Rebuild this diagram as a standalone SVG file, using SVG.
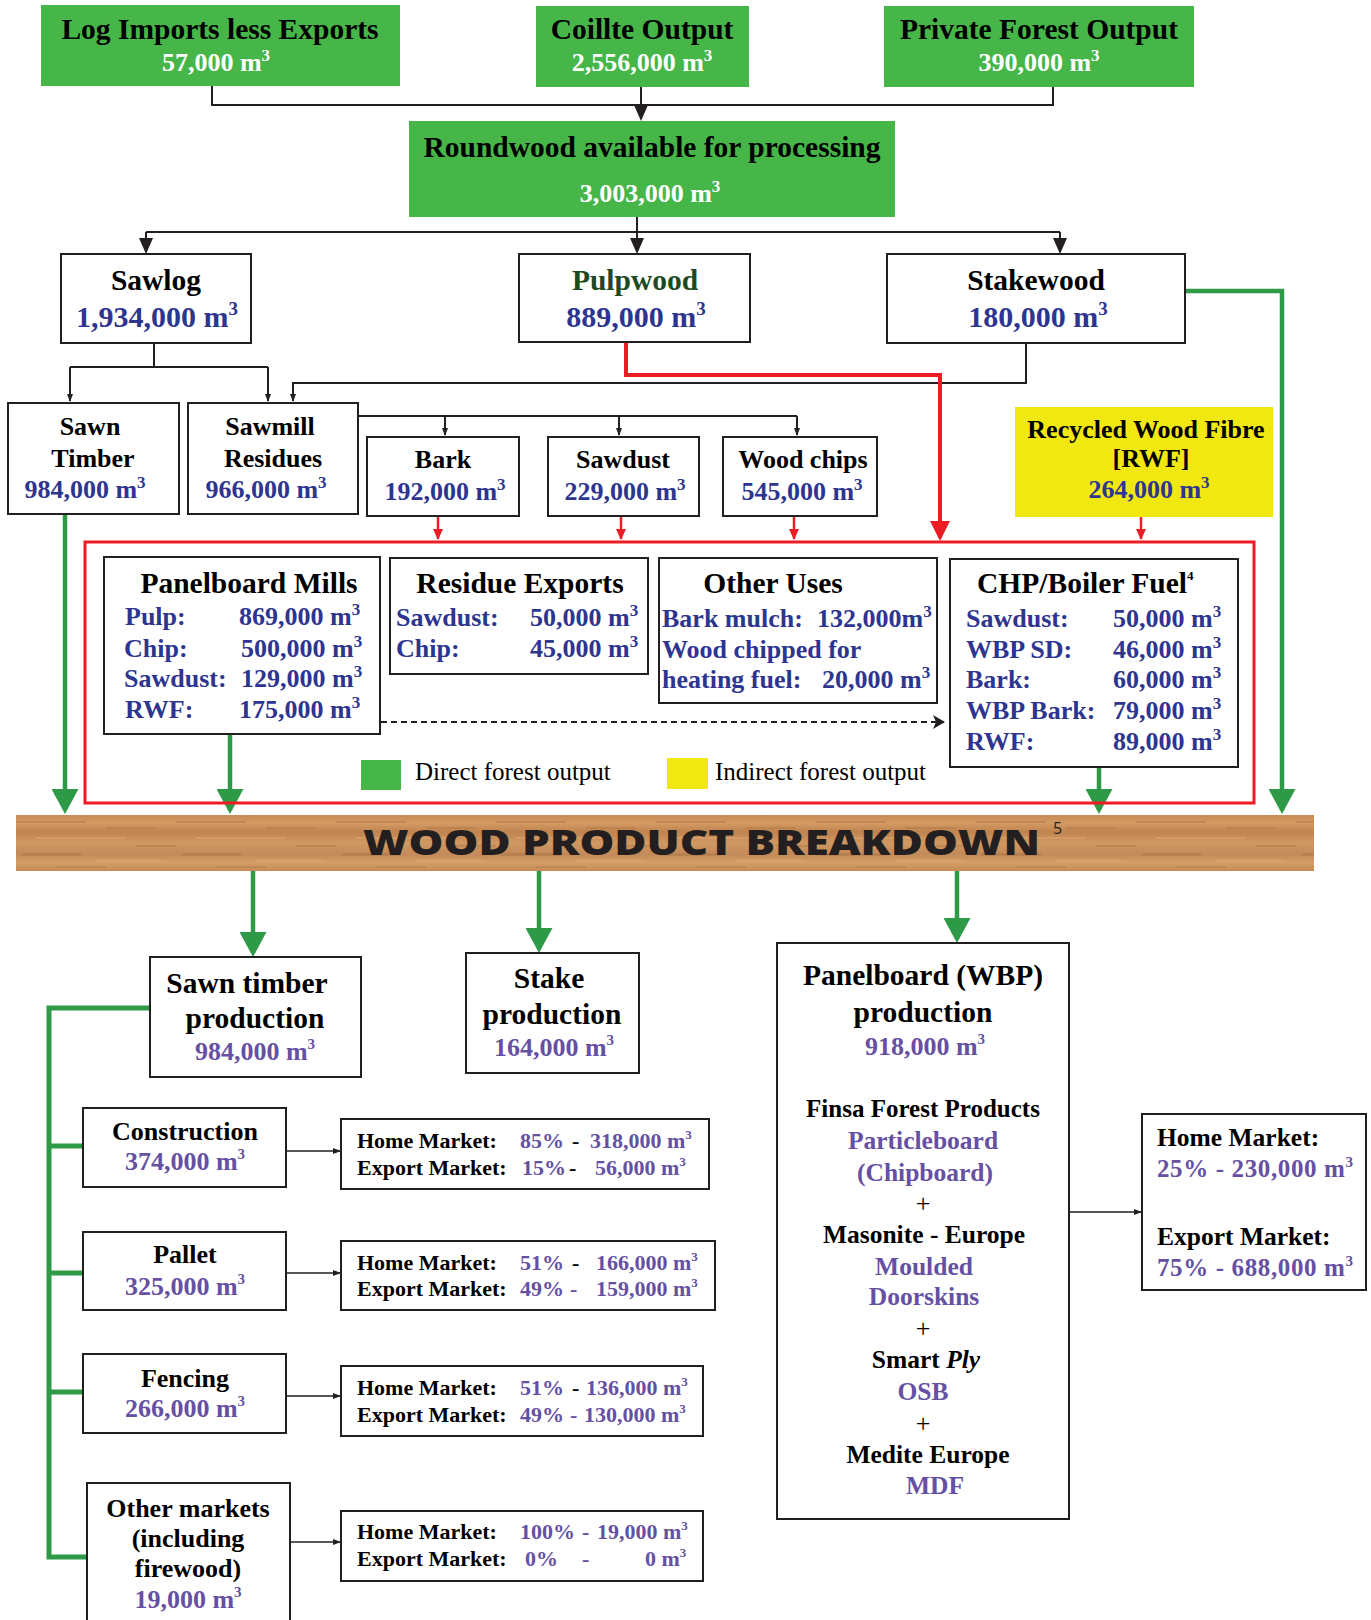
<svg xmlns="http://www.w3.org/2000/svg" width="1371" height="1620" viewBox="0 0 1371 1620">
<style>
.t{font-family:"Liberation Serif","Times New Roman",serif;font-weight:bold}
.r{font-family:"Liberation Serif","Times New Roman",serif;font-weight:normal}
.c{text-anchor:middle}
.h30{font-size:29.5px}
.n26{font-size:26px}
.s22{font-size:22px}
.blk{fill:#000}
.wht{fill:#fff}
.blu{fill:#2e3591}
.pur{fill:#6650a3}
.dg{fill:#1d4a21}
.box{fill:#fff;stroke:#231f20;stroke-width:2}
.gbox{fill:#47b649}
.ybox{fill:#f2e811}
.conn{fill:none;stroke:#231f20;stroke-width:2}
.red{fill:none;stroke:#ed1c24;stroke-width:4}
.redbox{fill:none;stroke:#ed1c24;stroke-width:3}
.grn{fill:none;stroke:#2e9a47;stroke-width:4.5}
.dash{fill:none;stroke:#231f20;stroke-width:1.8;stroke-dasharray:6 4}
</style>
<defs>
<marker id="blkL" viewBox="0 0 16 14" refX="14" refY="7" markerWidth="16" markerHeight="14" markerUnits="userSpaceOnUse" orient="auto"><path d="M0,0 L16,7 L0,14 z" fill="#231f20"/></marker>
<marker id="blkS" viewBox="0 0 8 6" refX="7" refY="3" markerWidth="8" markerHeight="6" markerUnits="userSpaceOnUse" orient="auto"><path d="M0,0 L8,3 L0,6 z" fill="#231f20"/></marker>
<marker id="blkD" viewBox="0 0 12 14" refX="11" refY="7" markerWidth="12" markerHeight="14" markerUnits="userSpaceOnUse" orient="auto"><path d="M0,0 L12,7 L0,14 L3,7 z" fill="#231f20"/></marker>
<marker id="redS" viewBox="0 0 11 10" refX="10" refY="5" markerWidth="11" markerHeight="10" markerUnits="userSpaceOnUse" orient="auto"><path d="M0,0 L11,5 L0,10 z" fill="#ed1c24"/></marker>
<marker id="redL" viewBox="0 0 20 20" refX="17" refY="10" markerWidth="20" markerHeight="20" markerUnits="userSpaceOnUse" orient="auto"><path d="M0,0 L20,10 L0,20 z" fill="#ed1c24"/></marker>
<marker id="grnA" viewBox="0 0 25 27" refX="21" refY="13.5" markerWidth="25" markerHeight="27" markerUnits="userSpaceOnUse" orient="auto"><path d="M0,0 L25,13.5 L0,27 z" fill="#2e9a47"/></marker>
<linearGradient id="woodG" x1="0" y1="0" x2="0" y2="1">
<stop offset="0" stop-color="#c88c56"/>
<stop offset="0.15" stop-color="#d39a63"/>
<stop offset="0.3" stop-color="#c0834f"/>
<stop offset="0.5" stop-color="#d09862"/>
<stop offset="0.7" stop-color="#c3895a"/>
<stop offset="0.85" stop-color="#d49d67"/>
<stop offset="1" stop-color="#c68b56"/>
</linearGradient>
<pattern id="grain" x="16" y="815" width="160" height="56" patternUnits="userSpaceOnUse">
<rect x="0" y="6" width="70" height="2" fill="#9c6a3c" opacity="0.35"/>
<rect x="90" y="12" width="50" height="2" fill="#9c6a3c" opacity="0.3"/>
<rect x="20" y="22" width="90" height="2" fill="#e3b07a" opacity="0.4"/>
<rect x="120" y="30" width="40" height="2" fill="#9c6a3c" opacity="0.3"/>
<rect x="5" y="38" width="60" height="3" fill="#9c6a3c" opacity="0.3"/>
<rect x="80" y="45" width="70" height="2" fill="#e3b07a" opacity="0.4"/>
<rect x="40" y="51" width="50" height="2" fill="#9c6a3c" opacity="0.3"/>
</pattern>
</defs>

<!-- connectors -->
<g id="connectors">
<path class="conn" d="M212,86 V105 H1053 V87"/>
<path class="conn" d="M641,87 V119" marker-end="url(#blkL)"/>
<path class="conn" d="M637,217 V232"/>
<path class="conn" d="M146,232 H1060"/>
<path class="conn" d="M146,232 V252" marker-end="url(#blkL)"/>
<path class="conn" d="M637,232 V252" marker-end="url(#blkL)"/>
<path class="conn" d="M1060,232 V252" marker-end="url(#blkL)"/>
<path class="conn" d="M154,343 V367"/>
<path class="conn" d="M70,367 H268"/>
<path class="conn" d="M70,367 V401" marker-end="url(#blkS)"/>
<path class="conn" d="M268,367 V401" marker-end="url(#blkS)"/>
<path class="conn" d="M1026,343 V383 H293 V401" marker-end="url(#blkS)"/>
<path class="conn" d="M358,416 H797"/>
<path class="conn" d="M445,416 V435" marker-end="url(#blkS)"/>
<path class="conn" d="M619,416 V435" marker-end="url(#blkS)"/>
<path class="conn" d="M797,416 V435" marker-end="url(#blkS)"/>
<path class="red" d="M626,342 V375 H940 V538" marker-end="url(#redL)"/>
<path class="red" style="stroke-width:2.5" d="M438,516 V539" marker-end="url(#redS)"/>
<path class="red" style="stroke-width:2.5" d="M621,516 V539" marker-end="url(#redS)"/>
<path class="red" style="stroke-width:2.5" d="M794,516 V539" marker-end="url(#redS)"/>
<path class="red" style="stroke-width:2.5" d="M1141,517 V539" marker-end="url(#redS)"/>
<path class="dash" d="M381,722 H944" marker-end="url(#blkD)"/>
<path class="grn" d="M1185,291 H1282 V810" marker-end="url(#grnA)"/>
<path class="grn" d="M65,515 V810" marker-end="url(#grnA)"/>
<path class="grn" d="M230,735 V810" marker-end="url(#grnA)"/>
<path class="grn" d="M1099,768 V810" marker-end="url(#grnA)"/>
<path class="grn" d="M253,871 V953" marker-end="url(#grnA)"/>
<path class="grn" d="M539,871 V949" marker-end="url(#grnA)"/>
<path class="grn" d="M957,871 V939" marker-end="url(#grnA)"/>
<path class="grn" style="stroke-width:5" d="M150,1008 H49 V1557 H87"/>
<path class="grn" style="stroke-width:5" d="M49,1146 H83"/>
<path class="grn" style="stroke-width:5" d="M49,1273 H83"/>
<path class="grn" style="stroke-width:5" d="M49,1392 H83"/>
<path class="conn" style="stroke-width:1.5" d="M286,1151 H340" marker-end="url(#blkS)"/>
<path class="conn" style="stroke-width:1.5" d="M286,1273 H340" marker-end="url(#blkS)"/>
<path class="conn" style="stroke-width:1.5" d="M286,1396 H340" marker-end="url(#blkS)"/>
<path class="conn" style="stroke-width:1.5" d="M290,1542 H340" marker-end="url(#blkS)"/>
<path class="conn" style="stroke-width:1.5" d="M1069,1212 H1141" marker-end="url(#blkS)"/>
</g>

<!-- top sources -->
<g id="log-imports">
<rect class="gbox" x="41" y="5" width="359" height="81"/>
<text class="t c h30 blk" x="220" y="39">Log Imports less Exports</text>
<text class="t c n26 wht" x="216" y="71">57,000 m<tspan dy="-10" font-size="17">3</tspan></text>
</g>
<g id="coillte">
<rect class="gbox" x="536" y="6" width="213" height="81"/>
<text class="t c h30 blk" x="642" y="39">Coillte Output</text>
<text class="t c n26 wht" x="642" y="71">2,556,000 m<tspan dy="-10" font-size="17">3</tspan></text>
</g>
<g id="private-forest">
<rect class="gbox" x="884" y="6" width="310" height="81"/>
<text class="t c h30 blk" x="1039" y="39">Private Forest Output</text>
<text class="t c n26 wht" x="1039" y="71">390,000 m<tspan dy="-10" font-size="17">3</tspan></text>
</g>
<g id="roundwood">
<rect class="gbox" x="409" y="121" width="486" height="96"/>
<text class="t c h30 blk" x="652" y="157">Roundwood available for processing</text>
<text class="t c n26 wht" x="650" y="202">3,003,000 m<tspan dy="-10" font-size="17">3</tspan></text>
</g>

<!-- second row -->
<g id="sawlog">
<rect class="box" x="61" y="254" width="190" height="89"/>
<text class="t c h30 blk" x="156" y="290">Sawlog</text>
<text class="t c blu" style="font-size:30px" x="157" y="327">1,934,000 m<tspan dy="-12" font-size="19">3</tspan></text>
</g>
<g id="pulpwood">
<rect class="box" x="519" y="254" width="231" height="88"/>
<text class="t c h30 dg" x="635" y="290">Pulpwood</text>
<text class="t c blu" style="font-size:30px" x="636" y="327">889,000 m<tspan dy="-12" font-size="19">3</tspan></text>
</g>
<g id="stakewood">
<rect class="box" x="887" y="254" width="298" height="89"/>
<text class="t c h30 blk" x="1036" y="290">Stakewood</text>
<text class="t c blu" style="font-size:30px" x="1038" y="327">180,000 m<tspan dy="-12" font-size="19">3</tspan></text>
</g>

<!-- third row -->
<g id="sawn-timber">
<rect class="box" x="8" y="403" width="171" height="111"/>
<text class="t c n26 blk" x="90" y="435">Sawn</text>
<text class="t c n26 blk" x="93" y="467">Timber</text>
<text class="t c n26 blu" x="85" y="498">984,000 m<tspan dy="-10" font-size="17">3</tspan></text>
</g>
<g id="sawmill-residues">
<rect class="box" x="188" y="403" width="170" height="111"/>
<text class="t c n26 blk" x="270" y="435">Sawmill</text>
<text class="t c n26 blk" x="273" y="467">Residues</text>
<text class="t c n26 blu" x="266" y="498">966,000 m<tspan dy="-10" font-size="17">3</tspan></text>
</g>
<g id="bark">
<rect class="box" x="367" y="437" width="152" height="79"/>
<text class="t c n26 blk" x="443" y="468">Bark</text>
<text class="t c n26 blu" x="445" y="500">192,000 m<tspan dy="-10" font-size="17">3</tspan></text>
</g>
<g id="sawdust">
<rect class="box" x="548" y="437" width="151" height="79"/>
<text class="t c n26 blk" x="623" y="468">Sawdust</text>
<text class="t c n26 blu" x="625" y="500">229,000 m<tspan dy="-10" font-size="17">3</tspan></text>
</g>
<g id="wood-chips">
<rect class="box" x="723" y="437" width="154" height="79"/>
<text class="t c n26 blk" x="803" y="468">Wood chips</text>
<text class="t c n26 blu" x="802" y="500">545,000 m<tspan dy="-10" font-size="17">3</tspan></text>
</g>
<g id="recycled-wood-fibre">
<rect class="ybox" x="1015" y="407" width="258" height="110"/>
<text class="t c n26 blk" x="1146" y="438">Recycled Wood Fibre</text>
<text class="t c n26 blk" x="1151" y="467">[RWF]</text>
<text class="t c n26 blu" x="1149" y="498">264,000 m<tspan dy="-10" font-size="17">3</tspan></text>
</g>

<!-- processing red frame -->
<g id="processing-frame">
<rect class="redbox" x="85" y="542" width="1169" height="261"/>
</g>
<g id="panelboard-mills">
<rect class="box" x="104" y="557" width="276" height="177"/>
<text class="t c h30 blk" x="249" y="593">Panelboard Mills</text>
<text class="t n26 blu" x="125" y="625">Pulp:</text>
<text class="t n26 blu" x="239" y="625">869,000 m<tspan dy="-10" font-size="17">3</tspan></text>
<text class="t n26 blu" x="124" y="657">Chip:</text>
<text class="t n26 blu" x="241" y="657">500,000 m<tspan dy="-10" font-size="17">3</tspan></text>
<text class="t n26 blu" x="124" y="687">Sawdust:</text>
<text class="t n26 blu" x="241" y="687">129,000 m<tspan dy="-10" font-size="17">3</tspan></text>
<text class="t n26 blu" x="125" y="718">RWF:</text>
<text class="t n26 blu" x="239" y="718">175,000 m<tspan dy="-10" font-size="17">3</tspan></text>
</g>
<g id="residue-exports">
<rect class="box" x="390" y="558" width="258" height="116"/>
<text class="t c h30 blk" x="520" y="593">Residue Exports</text>
<text class="t n26 blu" x="396" y="626">Sawdust:</text>
<text class="t n26 blu" x="530" y="626">50,000 m<tspan dy="-10" font-size="17">3</tspan></text>
<text class="t n26 blu" x="396" y="657">Chip:</text>
<text class="t n26 blu" x="530" y="657">45,000 m<tspan dy="-10" font-size="17">3</tspan></text>
</g>
<g id="other-uses">
<rect class="box" x="659" y="558" width="278" height="145"/>
<text class="t c h30 blk" x="773" y="593">Other Uses</text>
<text class="t n26 blu" x="662" y="627">Bark mulch:</text>
<text class="t n26 blu" x="817" y="627">132,000m<tspan dy="-10" font-size="17">3</tspan></text>
<text class="t n26 blu" x="662" y="658">Wood chipped for</text>
<text class="t n26 blu" x="662" y="688">heating fuel:</text>
<text class="t n26 blu" x="822" y="688">20,000 m<tspan dy="-10" font-size="17">3</tspan></text>
</g>
<g id="chp-boiler-fuel">
<rect class="box" x="950" y="559" width="288" height="208"/>
<text class="t h30 blk" x="977" y="593">CHP/Boiler Fuel<tspan dy="-13" font-size="13">4</tspan></text>
<text class="t n26 blu" x="966" y="627">Sawdust:</text>
<text class="t n26 blu" x="1113" y="627">50,000 m<tspan dy="-10" font-size="17">3</tspan></text>
<text class="t n26 blu" x="966" y="658">WBP SD:</text>
<text class="t n26 blu" x="1113" y="658">46,000 m<tspan dy="-10" font-size="17">3</tspan></text>
<text class="t n26 blu" x="966" y="688">Bark:</text>
<text class="t n26 blu" x="1113" y="688">60,000 m<tspan dy="-10" font-size="17">3</tspan></text>
<text class="t n26 blu" x="966" y="719">WBP Bark:</text>
<text class="t n26 blu" x="1113" y="719">79,000 m<tspan dy="-10" font-size="17">3</tspan></text>
<text class="t n26 blu" x="966" y="750">RWF:</text>
<text class="t n26 blu" x="1113" y="750">89,000 m<tspan dy="-10" font-size="17">3</tspan></text>
</g>
<g id="legend">
<rect x="361" y="760" width="40" height="30" fill="#47b649"/>
<text class="r blk" style="font-size:25px" x="415" y="780">Direct forest output</text>
<rect x="667" y="758" width="41" height="31" fill="#f2e811"/>
<text class="r blk" style="font-size:25px" x="715" y="780">Indirect forest output</text>
</g>

<!-- banner -->
<g id="wood-product-breakdown">
<rect x="16" y="815" width="1298" height="56" fill="url(#woodG)"/>
<rect x="16" y="815" width="1298" height="56" fill="url(#grain)"/>
<text x="363" y="855" style="font-family:'Open Sans','DejaVu Sans',sans-serif;font-weight:800;font-size:35px;fill:#231f20" textLength="677" lengthAdjust="spacingAndGlyphs">WOOD PRODUCT BREAKDOWN</text>
<text x="1053" y="834" style="font-family:'Open Sans','DejaVu Sans',sans-serif;font-size:16px;fill:#231f20">5</text>
</g>

<!-- outputs -->
<g id="sawn-timber-production">
<rect class="box" x="150" y="957" width="211" height="120"/>
<text class="t c h30 blk" x="247" y="993">Sawn timber</text>
<text class="t c h30 blk" x="255" y="1028">production</text>
<text class="t c n26 pur" x="255" y="1060">984,000 m<tspan dy="-11" font-size="15">3</tspan></text>
</g>
<g id="stake-production">
<rect class="box" x="466" y="953" width="173" height="120"/>
<text class="t c h30 blk" x="549" y="988">Stake</text>
<text class="t c h30 blk" x="552" y="1024">production</text>
<text class="t c n26 pur" x="554" y="1056">164,000 m<tspan dy="-11" font-size="15">3</tspan></text>
</g>
<g id="panelboard-wbp-production">
<rect class="box" x="777" y="943" width="292" height="576"/>
<text class="t c h30 blk" x="923" y="985">Panelboard (WBP)</text>
<text class="t c h30 blk" x="923" y="1022">production</text>
<text class="t c n26 pur" x="925" y="1055">918,000 m<tspan dy="-11" font-size="15">3</tspan></text>
<text class="t c blk" style="font-size:25px" x="923" y="1117">Finsa Forest Products</text>
<text class="t c pur" style="font-size:25.5px" x="923" y="1149">Particleboard</text>
<text class="t c pur" style="font-size:25.5px" x="925" y="1181">(Chipboard)</text>
<text class="r c blk" style="font-size:26px" x="923" y="1212">+</text>
<text class="t c blk" style="font-size:25.5px" x="924" y="1243">Masonite - Europe</text>
<text class="t c pur" style="font-size:25.5px" x="924" y="1275">Moulded</text>
<text class="t c pur" style="font-size:25.5px" x="924" y="1305">Doorskins</text>
<text class="r c blk" style="font-size:26px" x="923" y="1337">+</text>
<text class="t c blk" style="font-size:25.5px" x="926" y="1368">Smart <tspan font-style="italic">Ply</tspan></text>
<text class="t c pur" style="font-size:25.5px" x="923" y="1400">OSB</text>
<text class="r c blk" style="font-size:26px" x="923" y="1432">+</text>
<text class="t c blk" style="font-size:25.5px" x="928" y="1463">Medite Europe</text>
<text class="t c pur" style="font-size:25.5px" x="935" y="1494">MDF</text>
</g>
<g id="wbp-markets">
<rect class="box" x="1142" y="1114" width="224" height="176"/>
<text class="t blk" style="font-size:25.5px" x="1157" y="1146">Home Market:</text>
<text class="t pur" style="font-size:25px" x="1157" y="1177" textLength="196">25% - 230,000 m<tspan dy="-10" font-size="15">3</tspan></text>
<text class="t blk" style="font-size:25.5px" x="1157" y="1245">Export Market:</text>
<text class="t pur" style="font-size:25px" x="1157" y="1276" textLength="196">75% - 688,000 m<tspan dy="-10" font-size="15">3</tspan></text>
</g>

<g id="construction">
<rect class="box" x="83" y="1108" width="203" height="79"/>
<text class="t c n26 blk" x="185" y="1140">Construction</text>
<text class="t c n26 pur" x="185" y="1170">374,000 m<tspan dy="-11" font-size="15">3</tspan></text>
</g>
<g id="construction-markets">
<rect class="box" x="341" y="1119" width="368" height="70"/>
<text class="t s22 blk" x="357" y="1148">Home Market:</text>
<text class="t s22 pur" x="520" y="1148">85%</text>
<text class="t s22 blk" x="572" y="1148">-</text>
<text class="t s22 pur" x="590" y="1148">318,000 m<tspan dy="-9" font-size="13">3</tspan></text>
<text class="t s22 blk" x="357" y="1175">Export Market:</text>
<text class="t s22 pur" x="522" y="1175">15%</text>
<text class="t s22 blk" x="569" y="1175">-</text>
<text class="t s22 pur" x="595" y="1175">56,000 m<tspan dy="-9" font-size="13">3</tspan></text>
</g>
<g id="pallet">
<rect class="box" x="83" y="1232" width="203" height="78"/>
<text class="t c n26 blk" x="185" y="1263">Pallet</text>
<text class="t c n26 pur" x="185" y="1295">325,000 m<tspan dy="-11" font-size="15">3</tspan></text>
</g>
<g id="pallet-markets">
<rect class="box" x="341" y="1241" width="374" height="69"/>
<text class="t s22 blk" x="357" y="1270">Home Market:</text>
<text class="t s22 pur" x="520" y="1270">51%</text>
<text class="t s22 blk" x="572" y="1270">-</text>
<text class="t s22 pur" x="596" y="1270">166,000 m<tspan dy="-9" font-size="13">3</tspan></text>
<text class="t s22 blk" x="357" y="1296">Export Market:</text>
<text class="t s22 pur" x="520" y="1296">49%</text>
<text class="t s22 pur" x="570" y="1296">-</text>
<text class="t s22 pur" x="596" y="1296">159,000 m<tspan dy="-9" font-size="13">3</tspan></text>
</g>
<g id="fencing">
<rect class="box" x="83" y="1354" width="203" height="79"/>
<text class="t c n26 blk" x="185" y="1387">Fencing</text>
<text class="t c n26 pur" x="185" y="1417">266,000 m<tspan dy="-11" font-size="15">3</tspan></text>
</g>
<g id="fencing-markets">
<rect class="box" x="341" y="1366" width="362" height="70"/>
<text class="t s22 blk" x="357" y="1395">Home Market:</text>
<text class="t s22 pur" x="520" y="1395">51%</text>
<text class="t s22 blk" x="572" y="1395">-</text>
<text class="t s22 pur" x="586" y="1395">136,000 m<tspan dy="-9" font-size="13">3</tspan></text>
<text class="t s22 blk" x="357" y="1422">Export Market:</text>
<text class="t s22 pur" x="520" y="1422">49%</text>
<text class="t s22 pur" x="570" y="1422">-</text>
<text class="t s22 pur" x="584" y="1422">130,000 m<tspan dy="-9" font-size="13">3</tspan></text>
</g>
<g id="other-markets">
<rect class="box" x="87" y="1483" width="203" height="150"/>
<text class="t c n26 blk" x="188" y="1517">Other markets</text>
<text class="t c n26 blk" x="188" y="1547">(including</text>
<text class="t c n26 blk" x="188" y="1577">firewood)</text>
<text class="t c n26 pur" x="188" y="1608">19,000 m<tspan dy="-11" font-size="15">3</tspan></text>
</g>
<g id="other-markets-split">
<rect class="box" x="341" y="1511" width="362" height="70"/>
<text class="t s22 blk" x="357" y="1539">Home Market:</text>
<text class="t s22 pur" x="520" y="1539">100%</text>
<text class="t s22 pur" x="582" y="1539">-</text>
<text class="t s22 pur" x="597" y="1539">19,000 m<tspan dy="-9" font-size="13">3</tspan></text>
<text class="t s22 blk" x="357" y="1566">Export Market:</text>
<text class="t s22 pur" x="525" y="1566">0%</text>
<text class="t s22 pur" x="582" y="1566">-</text>
<text class="t s22 pur" x="645" y="1566">0 m<tspan dy="-9" font-size="13">3</tspan></text>
</g>
</svg>
